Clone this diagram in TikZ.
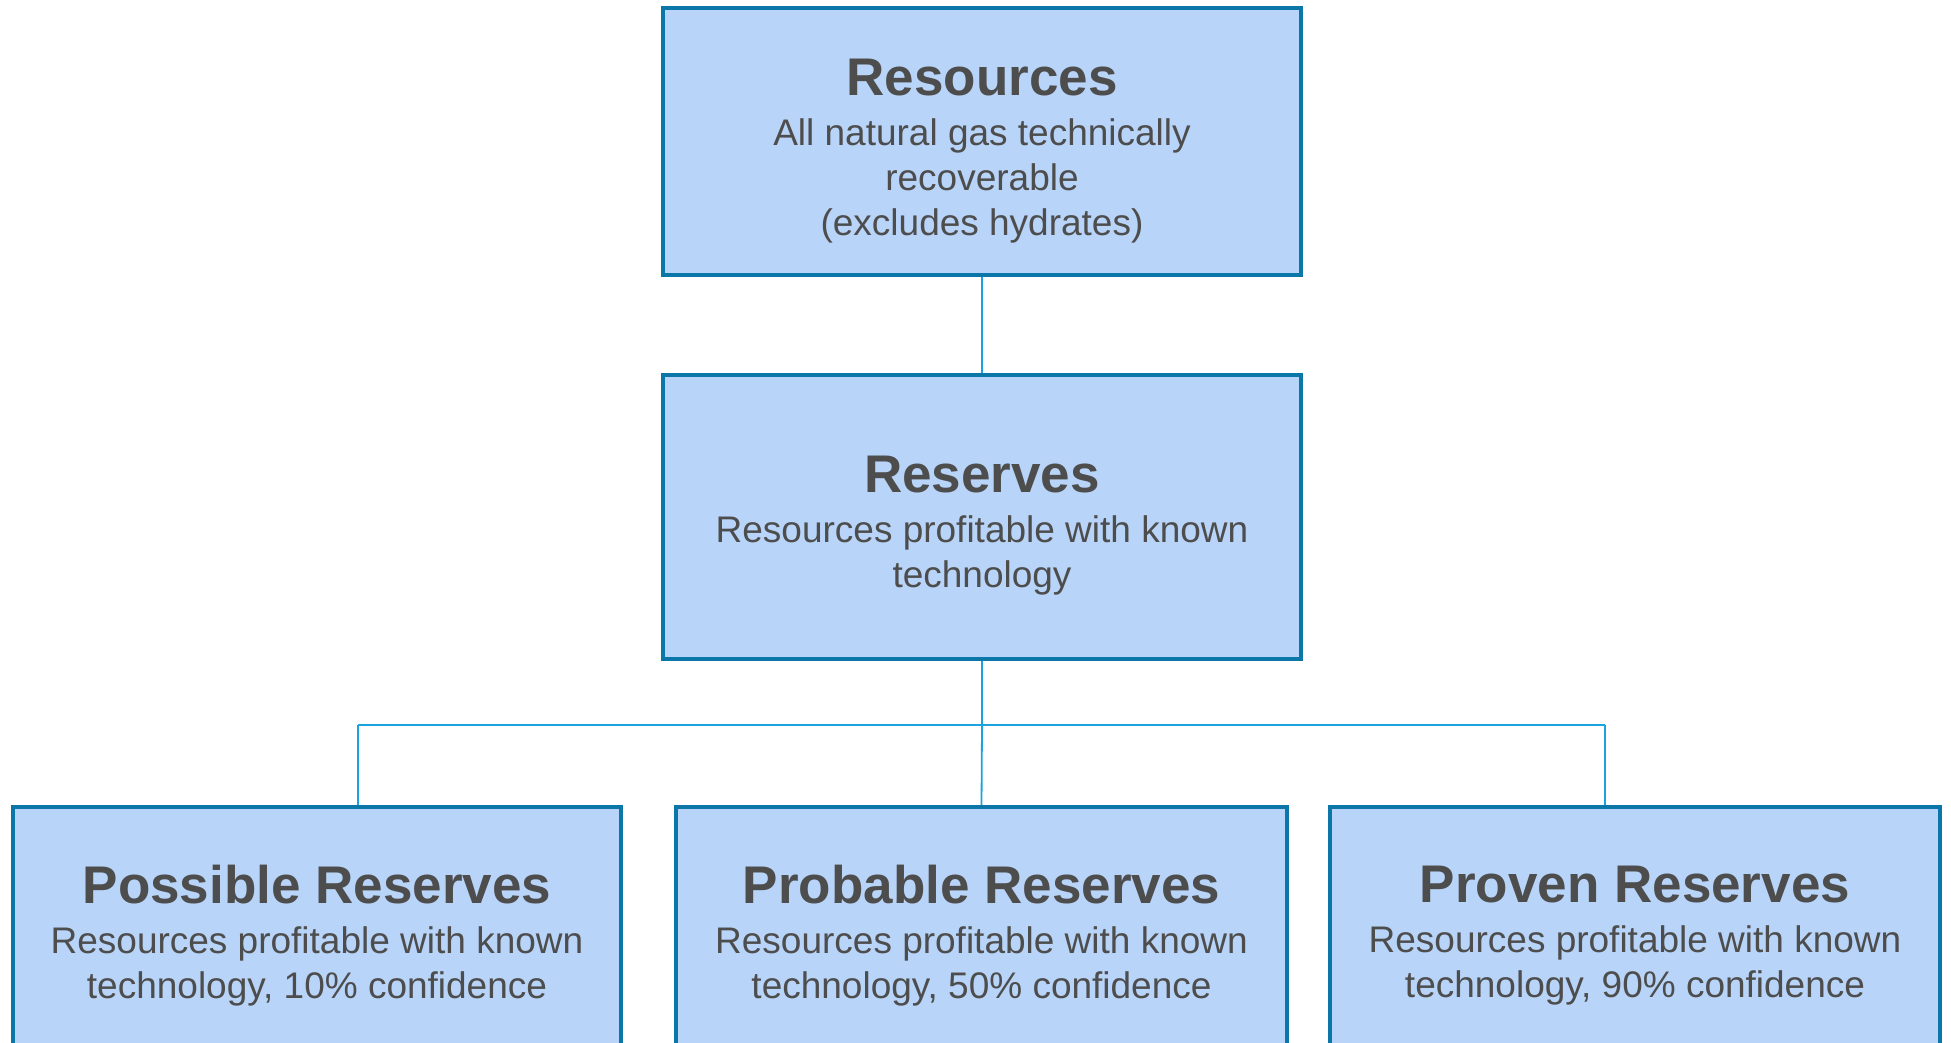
\documentclass[tikz,border=0pt]{standalone}
\usepackage{fontspec}
\setmainfont{Liberation Sans}
\definecolor{boxfill}{HTML}{B8D4F8}
\definecolor{boxline}{HTML}{0A77A8}
\definecolor{connline}{HTML}{1AA3DC}
\definecolor{txt}{HTML}{4D4D4D}
\newcommand{\ttlfont}{\fontsize{53}{45}\selectfont\bfseries}
\tikzset{
  box/.style={draw=boxline, fill=boxfill, line width=4pt, inner sep=0pt, anchor=center},
  boxtext/.style={inner sep=0pt, align=center, text=txt, anchor=center,
    font={\fontsize{37}{45}\selectfont}},
  conn/.style={draw=connline, line width=1.8pt}
}
\begin{document}
\begin{tikzpicture}[x=1pt,y=1pt]
\useasboundingbox (0,0) rectangle (1951,-1043);
\fill[white] (0,0) rectangle (1951,-1043);
\clip (0,0) rectangle (1951,-1043);
% boxes
\node[box, minimum width=638pt, minimum height=267pt] (res) at (982,-141.5) {};
\node[box, minimum width=638pt, minimum height=284pt] (rsv) at (982,-517) {};
\node[box, minimum width=608pt, minimum height=251pt] (poss) at (317,-932.5) {};
\node[box, minimum width=611pt, minimum height=251pt] (prob) at (981.5,-932.5) {};
\node[box, minimum width=610pt, minimum height=251pt] (prov) at (1635,-932.5) {};
% texts
\node[boxtext] (restxt) at ([yshift=-10pt]res.center)
  {{\ttlfont Resources}\\[5pt] All natural gas technically\\ recoverable\\ (excludes hydrates)};
\node[boxtext] (rsvtxt) at ([yshift=-9pt]rsv.center)
  {{\ttlfont Reserves}\\[5pt] Resources profitable with known\\ technology};
\node[boxtext] (posstxt) at ([yshift=-3pt]poss.center)
  {{\ttlfont Possible Reserves}\\[5pt] Resources profitable with known\\ technology, 10\% confidence};
\node[boxtext] (probtxt) at ([yshift=-3pt]prob.center)
  {{\ttlfont Probable Reserves}\\[5pt] Resources profitable with known\\ technology, 50\% confidence};
\node[boxtext] (provtxt) at ([yshift=-3pt]prov.center)
  {{\ttlfont Proven Reserves}\\[5pt] Resources profitable with known\\ technology, 90\% confidence};
% connectors
\coordinate (hl) at (358,-725);
\coordinate (hr) at (1605,-725);
\coordinate (hm) at (rsv.south |- hl);
\draw[conn] (res.south) -- (rsv.north);
\draw[conn] (rsv.south) -- (hm);
\draw[conn] (hl) -- (hr);
\draw[conn] (hl) -- (hl |- poss.north);
\draw[conn] (hm) -- (prob.north);
\draw[conn] (hr) -- (hr |- prov.north);
\end{tikzpicture}
\end{document}
